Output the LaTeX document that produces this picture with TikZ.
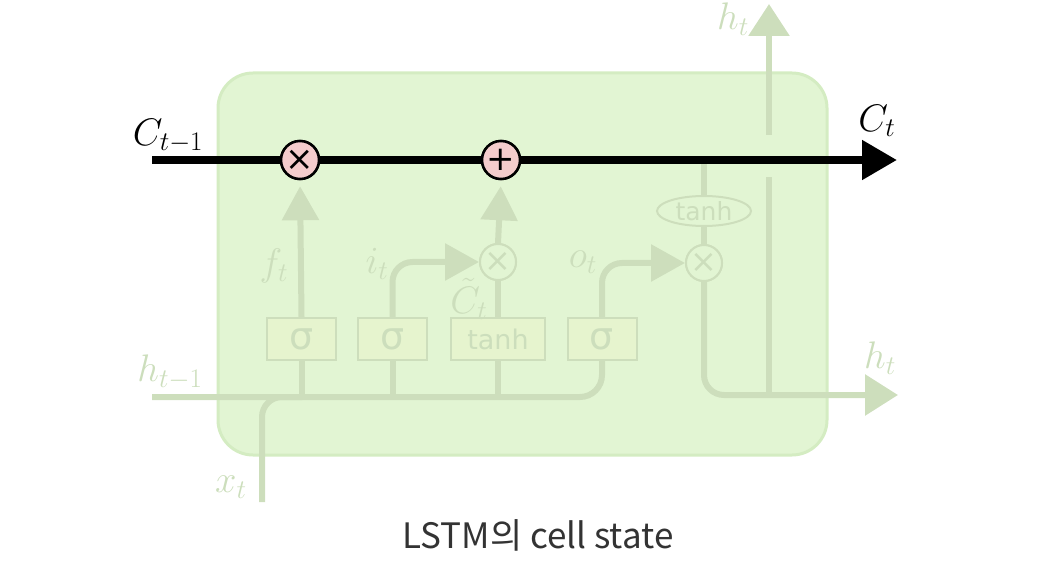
\documentclass[tikz,border=0pt]{standalone}
\usepackage{fix-cm}
\usepackage{fontspec}
\usetikzlibrary{arrows.meta,shapes.geometric}
\newfontfamily\djv{DejaVu Sans}
\newfontfamily\krfont{Noto Sans CJK KR}
\definecolor{boxfill}{RGB}{226,245,211}
\definecolor{boxdraw}{RGB}{212,236,194}
\definecolor{fade}{RGB}{205,222,188}
\definecolor{fadetext}{RGB}{204,222,188}
\definecolor{gatefill}{RGB}{230,244,206}
\definecolor{pinkop}{RGB}{244,204,204}
\definecolor{captext}{RGB}{51,51,51}
\newcommand\lbl[1]{\scalebox{1.28}{$#1$}}
\tikzset{
  fadeline/.style={draw=fade,line width=6pt},
  fadearrow/.style={fadeline,-{Triangle[length=34pt,width=36pt]}},
  gatebox/.style={draw=fade,line width=2pt,fill=gatefill,minimum height=42pt,inner sep=0pt,text=fadetext,font=\djv\fontsize{38}{38}\selectfont},
  fadeop/.style={circle,draw=fade,line width=2pt,fill=boxfill,minimum size=36pt,inner sep=0pt,text=fadetext,font=\djv\fontsize{32}{32}\selectfont},
  mainop/.style={circle,draw=black,line width=2.5pt,fill=pinkop,minimum size=38pt,inner sep=0pt,font=\djv\fontsize{34}{34}\selectfont},
  fadelabel/.style={text=fadetext,inner sep=0pt,font=\fontsize{30}{32}\selectfont},
  mainlabel/.style={text=black,inner sep=0pt,font=\fontsize{30}{32}\selectfont},
}
\begin{document}
\begin{tikzpicture}[x=1pt,y=-1pt]
\useasboundingbox (0,0) rectangle (1054,561);
% cell body
\node[draw=boxdraw,line width=3pt,fill=boxfill,rounded corners=35pt,minimum width=609pt,minimum height=382pt,inner sep=0pt] (cellbox) at (522.5,264) {};
% coordinates
\coordinate (cstart) at (152,160);
\coordinate (cend) at (897,160);
\coordinate (hl) at (152,397);
\coordinate (xs) at (262,502);
\coordinate (htr) at (898,395);
\coordinate (vb) at (769,395);
\coordinate (vm) at (769,177);
\coordinate (vu) at (769,135);
\coordinate (vt) at (769,4);
% gates
\node[gatebox,minimum width=69pt] (s1) at (301.5,339) {σ};
\node[gatebox,minimum width=69pt] (s2) at (392.5,339) {σ};
\node[gatebox,minimum width=94pt,font=\djv\fontsize{27}{27}\selectfont] (tb) at (498,339) {tanh};
\node[gatebox,minimum width=69pt] (s4) at (602,339) {σ};
\node[fadeop] (m1) at (498,262) {×};
\node[fadeop] (m2) at (704,263) {×};
\node[ellipse,draw=fade,line width=2pt,fill=boxfill,minimum width=94pt,minimum height=30pt,inner sep=0pt,text=fadetext,font=\djv\fontsize{25}{25}\selectfont] (th) at (704,211) {tanh};
\node[mainop] (times) at (300,160) {×};
\node[mainop] (plus) at (501,160) {+};
% faded connectors
\draw[fadeline] (s1.south) -- (s1.south |- hl);
\draw[fadeline] (s2.south) -- (s2.south |- hl);
\draw[fadeline] (tb.south) -- (tb.south |- hl);
\draw[fadeline,rounded corners=22pt] (hl) -| (s4.south);
\draw[fadeline,rounded corners=20pt] (xs) |- ([xshift=40pt]xs |- hl);
\draw[fadearrow,shorten >=6pt] (s1.north) -- (times.south);
\draw[fadearrow,rounded corners=20pt] (s2.north) |- (m1.west);
\draw[fadeline] (tb.north) -- (m1.south);
\draw[fadearrow,shorten >=6pt] (m1.north) -- (plus.south);
\draw[fadearrow,rounded corners=20pt] (s4.north) |- (m2.west);
\draw[fadeline] (m2.north) -- (th.south);
\draw[fadeline] (th.north) -- (th.north |- cstart);
\draw[fadearrow,rounded corners=20pt,-{Triangle[length=33pt,width=40pt]}] (m2.south) |- (htr);
\draw[fadeline] (vb) -- (vm);
\draw[fadearrow,-{Triangle[length=32pt,width=40pt]}] (vu) -- (vt);
% redraw ops on top of lines
\node[fadeop] at (m1) {×};
\node[fadeop] at (m2) {×};
% cell state line
\draw[line width=8pt,-{Triangle[length=35pt,width=38pt]}] (cstart) -- (cend);
\node[mainop] at (times) {×};
\node[mainop] at (plus) {+};
% labels
\node[mainlabel] (lc1) at (168,136) {\lbl{C_{t-1}}};
\node[mainlabel] (lc) at (877,121) {\lbl{C_t}};
\node[fadelabel] (lht) at (733,19) {\lbl{h_t}};
\node[fadelabel] (lhr) at (880,358) {\lbl{h_t}};
\node[fadelabel] (lh1) at (170,372) {\lbl{h_{t-1}}};
\node[fadelabel] (lx) at (231,487) {\lbl{x_t}};
\node[fadelabel] (lf) at (274,266) {\lbl{f_t}};
\node[fadelabel] (li) at (377,264) {\lbl{i_t}};
\node[fadelabel] (lct) at (469,299) {\lbl{\tilde{C}_t}};
\node[fadelabel] (lo) at (583,262) {\lbl{o_t}};
% caption
\node[text=captext,inner sep=0pt,font=\krfont\fontsize{35}{37}\selectfont] (cap) at (538,535) {LSTM의 cell state};
\end{tikzpicture}
\end{document}
